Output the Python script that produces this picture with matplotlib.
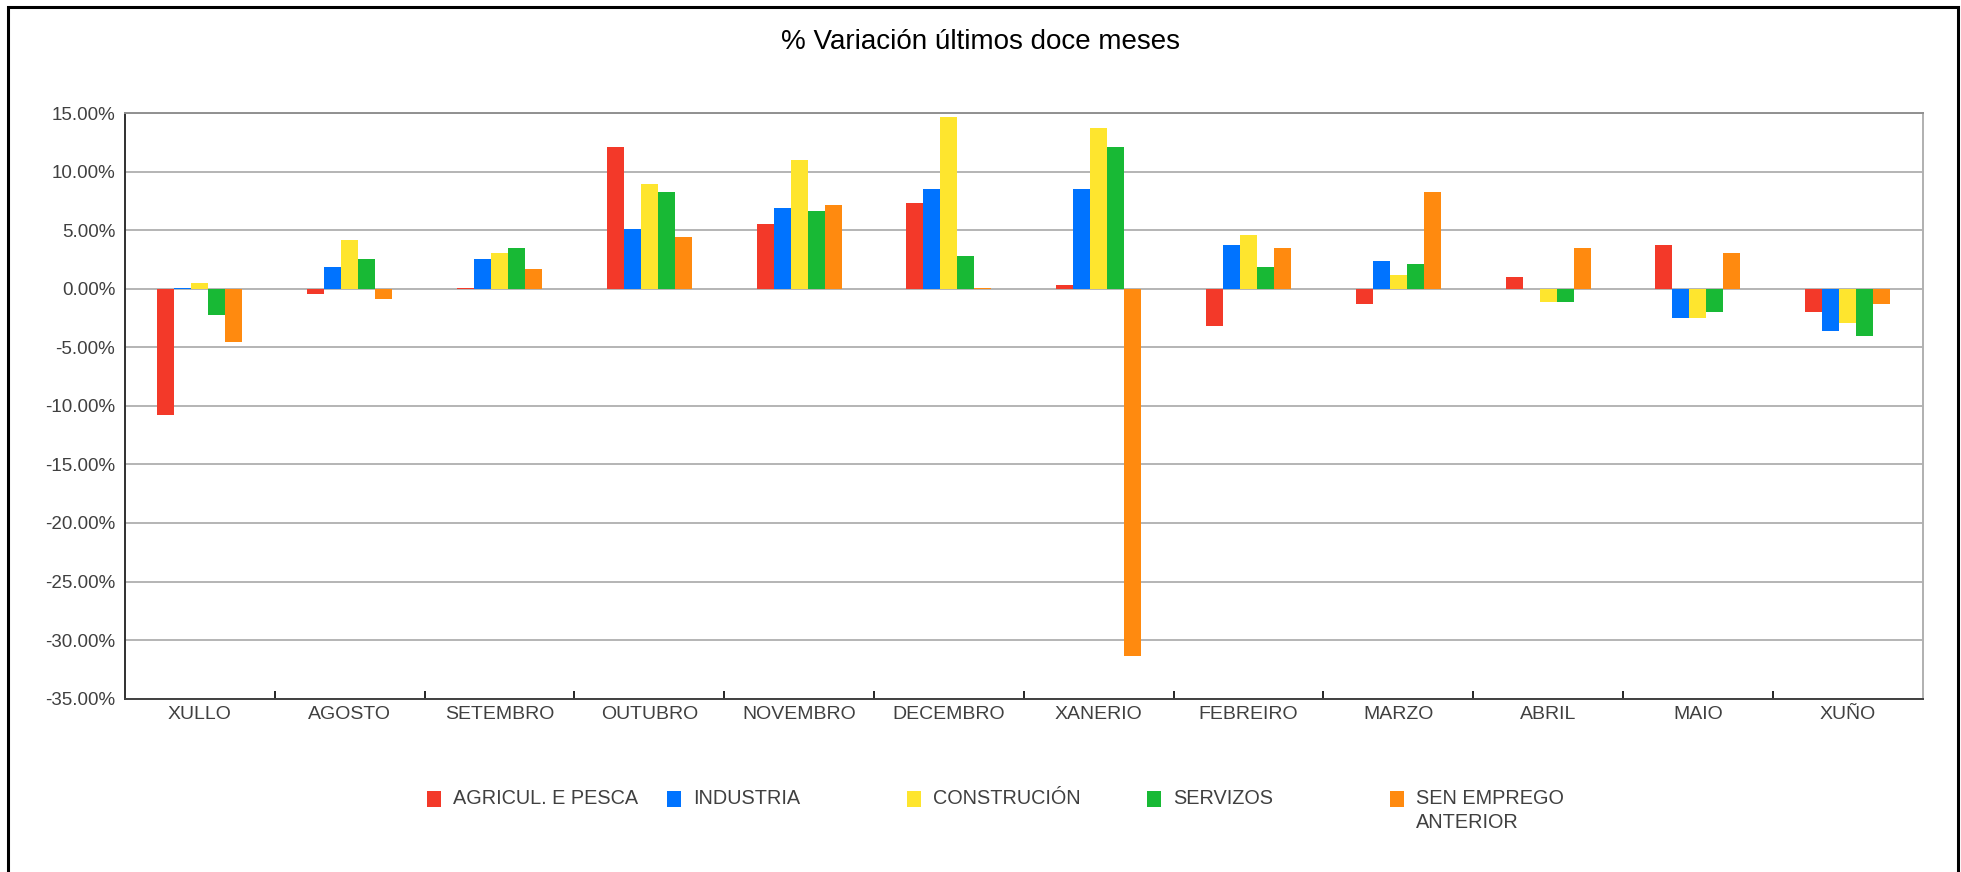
import numpy as np
import matplotlib
matplotlib.use("Agg")
import matplotlib.pyplot as plt
from matplotlib.patches import Rectangle
from matplotlib.ticker import FuncFormatter, MultipleLocator

plt.rcParams['font.family'] = ['Liberation Sans', 'DejaVu Sans']

months = ['XULLO', 'AGOSTO', 'SETEMBRO', 'OUTUBRO', 'NOVEMBRO', 'DECEMBRO',
          'XANERIO', 'FEBREIRO', 'MARZO', 'ABRIL', 'MAIO', 'XUÑO']
series_names = ['AGRICUL. E PESCA', 'INDUSTRIA', 'CONSTRUCIÓN', 'SERVIZOS',
                'SEN EMPREGO\nANTERIOR']

# % variation
agricul = [-10.8, -0.43, 0.05, 12.07, 5.51, 7.30, 0.31, -3.15, -1.28, 0.99, 3.72, -1.96]
industria = [0.08, 1.85, 2.53, 5.09, 6.88, 8.49, 8.49, 3.72, 2.36, -0.05, -2.47, -3.58]
construcion = [0.48, 4.15, 3.04, 8.92, 10.97, 14.63, 13.69, 4.57, 1.16, -1.11, -2.47, -2.90]
servizos = [-2.24, 2.53, 3.47, 8.24, 6.62, 2.78, 12.07, 1.85, 2.10, -1.11, -1.96, -4.0]
sen_emprego = [-4.52, -0.85, 1.68, 4.40, 7.13, 0.05, -31.37, 3.47, 8.24, 3.47, 3.04, -1.28]

colors = ['#F33929', '#0073FF', '#FEE52E', '#18B935', '#FF8A0F']
all_series = [agricul, industria, construcion, servizos, sen_emprego]

W, H = 1961, 872
fig = plt.figure(figsize=(W / 100, H / 100), dpi=100)
ax = fig.add_axes([125 / W, (H - 698.7) / H, (1922.7 - 125) / W, (698.7 - 113) / H])

x = np.arange(len(months))
bw = 0.1135
for i, (vals, c) in enumerate(zip(all_series, colors)):
    ax.bar(x + (i - 2) * bw, vals, bw, color=c, zorder=2, linewidth=0)

ax.set_xlim(-0.5, len(months) - 0.5)
ax.set_ylim(-35, 15)
ax.yaxis.set_major_locator(MultipleLocator(5))
ax.yaxis.set_major_formatter(FuncFormatter(lambda v, p: '%.2f%%' % v))
ax.grid(axis='y', color='#A8A8A8', linewidth=1.2, zorder=0)
ax.set_axisbelow(True)

ax.set_xticks(x)
ax.set_xticklabels(months)
ax.set_xticks(x[:-1] + 0.5, minor=True)
ax.tick_params(axis='x', which='major', length=0, pad=5.5, labelsize=14, labelcolor='#404040')
ax.tick_params(axis='x', which='minor', direction='in', length=6, width=1.2, color='black')
ax.tick_params(axis='y', length=0, pad=7, labelsize=13.5, labelcolor='#404040')

ax.spines['left'].set_color('#303030')
ax.spines['bottom'].set_color('#404040')
ax.spines['top'].set_color('#909090')
ax.spines['right'].set_color('#B0B0B0')
for s in ax.spines.values():
    s.set_linewidth(1.4)

fig.text(0.5, (H - 42) / H, '% Variación últimos doce meses', ha='center', va='center',
         fontsize=20, color='black')

# legend
leg_x = [427, 667, 907, 1147, 1390]
for lx, name, c in zip(leg_x, series_names, colors):
    fig.add_artist(Rectangle((lx / W, (H - 807) / H), 14 / W, 16 / H,
                             transform=fig.transFigure, color=c, linewidth=0))
    fig.text((lx + 26) / W, (H - 789) / H, name, ha='left', va='top', fontsize=14.3,
             color='#404040', linespacing=1.3)

# outer frame (bottom edge lies off the picture)
fig.add_artist(Rectangle((8 / W, -0.05), (1958 - 8) / W, (H - 7) / H + 0.05,
                         transform=fig.transFigure, fill=False, edgecolor='black',
                         linewidth=2.2, clip_on=False))

fig.savefig('out.png', dpi=100)
